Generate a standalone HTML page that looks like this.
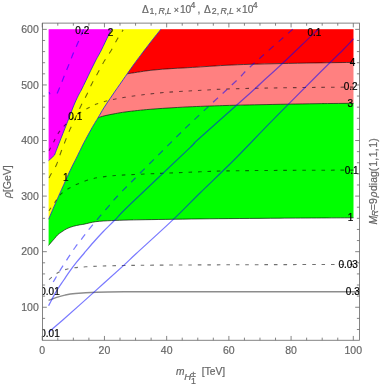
<!DOCTYPE html>
<html><head><meta charset="utf-8"><title>plot</title>
<style>
html,body{margin:0;padding:0;background:#fff;}
body{width:382px;height:388px;overflow:hidden;font-family:"Liberation Sans",sans-serif;}
svg{display:block;will-change:transform;}
text{font-family:"Liberation Sans",sans-serif;}
.tk{font-size:10.5px;fill:#666;stroke:#666;stroke-width:0.18px;}
.cl{font-size:10px;fill:#000;stroke:#000;stroke-width:0.2px;}
.ti{font-size:10.2px;fill:#666;stroke:#666;stroke-width:0.2px;}
.sb{font-size:8.8px;}
.fl{font-size:10.5px;fill:#666;stroke:#666;stroke-width:0.2px;}
</style></head><body>
<svg width="382" height="388" viewBox="0 0 382 388">
<rect width="382" height="388" fill="#fff"/>
<defs><clipPath id="cp"><rect x="42.5" y="23.1" width="317" height="317.15"/></clipPath></defs>
<g clip-path="url(#cp)">
<path d="M100,25.50 L100,73.80 L127.20,73.80 C128.93,73.53 133.78,72.77 137.60,72.20 C141.42,71.63 145.22,70.95 150.10,70.40 C154.98,69.85 160.62,69.35 166.90,68.90 C173.18,68.45 181.45,68.08 187.80,67.70 C194.15,67.32 198.63,67.00 205.00,66.60 C211.37,66.20 218.50,65.68 226.00,65.30 C233.50,64.92 241.00,64.58 250.00,64.30 C259.00,64.02 269.00,63.83 280.00,63.60 C291.00,63.37 303.75,63.10 316.00,62.90 C328.25,62.70 347.25,62.48 353.50,62.40 L357.00,62.40 L357.00,25.50 Z" fill="#ff0000"/>
<path d="M90,72.80 L90,117.70 L98.10,117.70 C99.23,117.37 102.02,116.38 104.90,115.70 C107.78,115.02 112.05,114.22 115.40,113.60 C118.75,112.98 121.30,112.52 125.00,112.00 C128.70,111.48 133.42,110.95 137.60,110.50 C141.78,110.05 145.22,109.70 150.10,109.30 C154.98,108.90 160.62,108.50 166.90,108.10 C173.18,107.70 181.45,107.22 187.80,106.90 C194.15,106.58 198.63,106.43 205.00,106.20 C211.37,105.97 216.83,105.75 226.00,105.50 C235.17,105.25 245.00,105.00 260.00,104.70 C275.00,104.40 300.42,103.93 316.00,103.70 C331.58,103.47 347.25,103.37 353.50,103.30 L357.00,103.30 L357.00,62.40 L353.50,62.40 C347.25,62.48 328.25,62.70 316.00,62.90 C303.75,63.10 291.00,63.37 280.00,63.60 C269.00,63.83 259.00,64.02 250.00,64.30 C241.00,64.58 233.50,64.92 226.00,65.30 C218.50,65.68 211.37,66.20 205.00,66.60 C198.63,67.00 194.15,67.32 187.80,67.70 C181.45,68.08 173.18,68.45 166.90,68.90 C160.62,69.35 154.98,69.85 150.10,70.40 C145.22,70.95 141.42,71.63 137.60,72.20 C133.78,72.77 128.93,73.53 127.20,73.80 Z" fill="#ff8080"/>
<path d="M45.00,116.70 L98.10,117.70 C99.23,117.37 102.02,116.38 104.90,115.70 C107.78,115.02 112.05,114.22 115.40,113.60 C118.75,112.98 121.30,112.52 125.00,112.00 C128.70,111.48 133.42,110.95 137.60,110.50 C141.78,110.05 145.22,109.70 150.10,109.30 C154.98,108.90 160.62,108.50 166.90,108.10 C173.18,107.70 181.45,107.22 187.80,106.90 C194.15,106.58 198.63,106.43 205.00,106.20 C211.37,105.97 216.83,105.75 226.00,105.50 C235.17,105.25 245.00,105.00 260.00,104.70 C275.00,104.40 300.42,103.93 316.00,103.70 C331.58,103.47 347.25,103.37 353.50,103.30 L357.00,103.30 L357.00,217.80 L353.50,217.80 C341.25,217.87 305.58,218.02 280.00,218.20 C254.42,218.38 223.33,218.63 200.00,218.90 C176.67,219.17 152.15,219.60 140.00,219.80 C127.85,220.00 131.87,219.97 127.10,220.10 C122.33,220.23 116.63,220.33 111.40,220.60 C106.17,220.87 100.27,221.10 95.70,221.70 C91.13,222.30 86.68,223.67 84.00,224.20 C81.32,224.73 81.38,224.55 79.60,224.90 C77.82,225.25 75.40,225.68 73.30,226.30 C71.20,226.92 68.92,227.68 67.00,228.60 C65.08,229.52 63.37,230.75 61.80,231.80 C60.23,232.85 58.82,233.77 57.60,234.90 C56.38,236.03 55.55,237.38 54.50,238.60 C53.45,239.82 52.28,241.07 51.30,242.20 C50.32,243.33 49.05,244.87 48.60,245.40 L45.00,249.7 Z" fill="#00ff00"/>
<path d="M45.00,25.50 L163.8,25.50 L160.90,29.20 C159.23,31.30 154.30,37.43 150.90,41.80 C147.50,46.17 143.25,51.77 140.50,55.40 C137.75,59.03 136.62,60.53 134.40,63.60 C132.18,66.67 129.62,70.35 127.20,73.80 C124.78,77.25 121.78,81.60 119.90,84.30 C118.02,87.00 117.52,87.65 115.90,90.00 C114.28,92.35 112.20,95.43 110.20,98.40 C108.20,101.37 105.92,104.58 103.90,107.80 C101.88,111.02 99.67,115.08 98.10,117.70 C96.53,120.32 95.72,121.45 94.50,123.50 C93.28,125.55 92.55,126.83 90.80,130.00 C89.05,133.17 85.87,138.93 84.00,142.50 C82.13,146.07 81.03,148.48 79.60,151.40 C78.17,154.32 76.62,157.57 75.40,160.00 C74.18,162.43 73.52,163.52 72.30,166.00 C71.08,168.48 69.50,171.85 68.10,174.90 C66.70,177.95 65.30,181.17 63.90,184.30 C62.50,187.43 60.75,191.35 59.70,193.70 C58.65,196.05 58.57,196.22 57.60,198.40 C56.63,200.58 55.40,203.32 53.90,206.80 C52.40,210.28 49.48,217.22 48.60,219.30 L45.00,228 Z" fill="#ffff00"/>
<path d="M45.00,25.50 L113.2,25.50 L111.40,29.20 C110.87,30.30 109.87,32.33 108.20,35.80 C106.53,39.27 103.43,45.98 101.40,50.00 C99.37,54.02 97.73,56.58 96.00,59.90 C94.27,63.22 92.67,66.48 91.00,69.90 C89.33,73.32 87.62,77.05 86.00,80.40 C84.38,83.75 82.58,87.48 81.30,90.00 C80.02,92.52 79.58,92.85 78.30,95.50 C77.02,98.15 75.22,101.98 73.60,105.90 C71.98,109.82 70.05,115.25 68.60,119.00 C67.15,122.75 66.20,125.10 64.90,128.40 C63.60,131.70 62.10,135.48 60.80,138.80 C59.50,142.12 58.15,145.58 57.10,148.30 C56.05,151.02 54.93,153.97 54.50,155.10 L50.80,158.70 L48.60,160.60 L45.00,163.96 Z" fill="#ff00ff"/>
<rect x="42.5" y="23.1" width="6.10" height="317.15" fill="#fff"/><rect x="353.50" y="23.1" width="6.00" height="317.15" fill="#fff"/><rect x="42.5" y="23.1" width="317" height="6.10" fill="#fff"/>
<g fill="none" stroke="#000" stroke-opacity="0.8" stroke-width="0.8">
<path d="M127.20,73.80 C128.93,73.53 133.78,72.77 137.60,72.20 C141.42,71.63 145.22,70.95 150.10,70.40 C154.98,69.85 160.62,69.35 166.90,68.90 C173.18,68.45 181.45,68.08 187.80,67.70 C194.15,67.32 198.63,67.00 205.00,66.60 C211.37,66.20 218.50,65.68 226.00,65.30 C233.50,64.92 241.00,64.58 250.00,64.30 C259.00,64.02 269.00,63.83 280.00,63.60 C291.00,63.37 303.75,63.10 316.00,62.90 C328.25,62.70 347.25,62.48 353.50,62.40"/><path d="M98.10,117.70 C99.23,117.37 102.02,116.38 104.90,115.70 C107.78,115.02 112.05,114.22 115.40,113.60 C118.75,112.98 121.30,112.52 125.00,112.00 C128.70,111.48 133.42,110.95 137.60,110.50 C141.78,110.05 145.22,109.70 150.10,109.30 C154.98,108.90 160.62,108.50 166.90,108.10 C173.18,107.70 181.45,107.22 187.80,106.90 C194.15,106.58 198.63,106.43 205.00,106.20 C211.37,105.97 216.83,105.75 226.00,105.50 C235.17,105.25 245.00,105.00 260.00,104.70 C275.00,104.40 300.42,103.93 316.00,103.70 C331.58,103.47 347.25,103.37 353.50,103.30"/><path d="M48.60,245.40 C49.05,244.87 50.32,243.33 51.30,242.20 C52.28,241.07 53.45,239.82 54.50,238.60 C55.55,237.38 56.38,236.03 57.60,234.90 C58.82,233.77 60.23,232.85 61.80,231.80 C63.37,230.75 65.08,229.52 67.00,228.60 C68.92,227.68 71.20,226.92 73.30,226.30 C75.40,225.68 77.82,225.25 79.60,224.90 C81.38,224.55 81.32,224.73 84.00,224.20 C86.68,223.67 91.13,222.30 95.70,221.70 C100.27,221.10 106.17,220.87 111.40,220.60 C116.63,220.33 122.33,220.23 127.10,220.10 C131.87,219.97 127.85,220.00 140.00,219.80 C152.15,219.60 176.67,219.17 200.00,218.90 C223.33,218.63 254.42,218.38 280.00,218.20 C305.58,218.02 341.25,217.87 353.50,217.80"/>
</g>
<g fill="none" stroke="#2a2ad8" stroke-opacity="0.85" stroke-width="1">
<path d="M111.40,29.20 C110.87,30.30 109.87,32.33 108.20,35.80 C106.53,39.27 103.43,45.98 101.40,50.00 C99.37,54.02 97.73,56.58 96.00,59.90 C94.27,63.22 92.67,66.48 91.00,69.90 C89.33,73.32 87.62,77.05 86.00,80.40 C84.38,83.75 82.58,87.48 81.30,90.00 C80.02,92.52 79.58,92.85 78.30,95.50 C77.02,98.15 75.22,101.98 73.60,105.90 C71.98,109.82 70.05,115.25 68.60,119.00 C67.15,122.75 66.20,125.10 64.90,128.40 C63.60,131.70 62.10,135.48 60.80,138.80 C59.50,142.12 58.15,145.58 57.10,148.30 C56.05,151.02 54.93,153.97 54.50,155.10 L50.8,158.7 L48.6,160.6"/><path d="M160.90,29.20 C159.23,31.30 154.30,37.43 150.90,41.80 C147.50,46.17 143.25,51.77 140.50,55.40 C137.75,59.03 136.62,60.53 134.40,63.60 C132.18,66.67 129.62,70.35 127.20,73.80 C124.78,77.25 121.78,81.60 119.90,84.30 C118.02,87.00 117.52,87.65 115.90,90.00 C114.28,92.35 112.20,95.43 110.20,98.40 C108.20,101.37 105.92,104.58 103.90,107.80 C101.88,111.02 99.67,115.08 98.10,117.70 C96.53,120.32 95.72,121.45 94.50,123.50 C93.28,125.55 92.55,126.83 90.80,130.00 C89.05,133.17 85.87,138.93 84.00,142.50 C82.13,146.07 81.03,148.48 79.60,151.40 C78.17,154.32 76.62,157.57 75.40,160.00 C74.18,162.43 73.52,163.52 72.30,166.00 C71.08,168.48 69.50,171.85 68.10,174.90 C66.70,177.95 65.30,181.17 63.90,184.30 C62.50,187.43 60.75,191.35 59.70,193.70 C58.65,196.05 58.57,196.22 57.60,198.40 C56.63,200.58 55.40,203.32 53.90,206.80 C52.40,210.28 49.48,217.22 48.60,219.30"/>
</g>
<g fill="none" stroke="#000" stroke-opacity="0.56" stroke-width="1.1" stroke-dasharray="3.6,5.9">
<path d="M353.50,87.10 C347.25,87.15 329.92,87.25 316.00,87.40 C302.08,87.55 285.00,87.73 270.00,88.00 C255.00,88.27 237.25,88.63 226.00,89.00 C214.75,89.37 208.87,89.87 202.50,90.20 C196.13,90.53 193.73,90.65 187.80,91.00 C181.87,91.35 173.88,91.73 166.90,92.30 C159.92,92.87 152.88,93.57 145.90,94.40 C138.92,95.23 130.25,96.50 125.00,97.30 C119.75,98.10 117.65,98.53 114.40,99.20 C111.15,99.87 108.47,100.48 105.50,101.30 C102.53,102.12 99.57,102.93 96.60,104.10 C93.63,105.27 91.13,106.40 87.70,108.30 C84.27,110.20 79.70,112.77 76.00,115.50 C72.30,118.23 68.38,121.85 65.50,124.70 C62.62,127.55 60.58,129.90 58.70,132.60 C56.82,135.30 55.68,138.12 54.20,140.90 C52.72,143.68 50.73,147.52 49.80,149.30 C48.87,151.08 48.80,151.22 48.60,151.60"/><path d="M353.50,170.10 C341.25,170.15 301.25,170.27 280.00,170.40 C258.75,170.53 239.33,170.67 226.00,170.90 C212.67,171.13 211.00,171.38 200.00,171.80 C189.00,172.22 173.33,172.83 160.00,173.40 C146.67,173.97 130.00,174.55 120.00,175.20 C110.00,175.85 105.33,176.50 100.00,177.30 C94.67,178.10 91.83,178.83 88.00,180.00 C84.17,181.17 80.23,182.88 77.00,184.30 C73.77,185.72 71.30,186.85 68.60,188.50 C65.90,190.15 63.07,191.95 60.80,194.20 C58.53,196.45 57.03,199.17 55.00,202.00 C52.97,204.83 49.67,209.67 48.60,211.20"/><path d="M353.50,264.40 C327.92,264.48 238.25,264.72 200.00,264.90 C161.75,265.08 143.02,265.18 124.00,265.50 C104.98,265.82 94.70,266.33 85.90,266.80 C77.10,267.27 75.05,267.70 71.20,268.30 C67.35,268.90 65.23,269.53 62.80,270.40 C60.37,271.27 58.97,271.92 56.60,273.50 C54.23,275.08 49.93,278.83 48.60,279.90"/>
<path d="M123.10,29.90 C122.12,31.47 119.22,35.83 117.20,39.30 C115.18,42.77 113.10,47.17 111.00,50.70 C108.90,54.23 106.72,56.95 104.60,60.50 C102.48,64.05 100.40,68.17 98.30,72.00 C96.20,75.83 93.95,79.67 92.00,83.50 C90.05,87.33 88.45,91.25 86.60,95.00 C84.75,98.75 82.72,102.25 80.90,106.00 C79.08,109.75 77.48,113.68 75.70,117.50 C73.92,121.32 71.90,125.08 70.20,128.90 C68.50,132.72 67.07,136.47 65.50,140.40 C63.93,144.33 62.28,148.50 60.80,152.50 C59.32,156.50 58.35,160.58 56.60,164.40 C54.85,168.22 51.63,172.97 50.30,175.40 C48.97,177.83 48.88,178.40 48.60,179.00" stroke-dasharray="5.6,7" stroke-dashoffset="3.5"/>
</g>
<path d="M359.50,291.70 C332.92,291.70 239.25,291.68 200.00,291.70 C160.75,291.72 141.27,291.72 124.00,291.80 C106.73,291.88 104.50,291.92 96.40,292.20 C88.30,292.48 80.65,293.02 75.40,293.50 C70.15,293.98 68.03,294.45 64.90,295.10 C61.77,295.75 59.32,296.50 56.60,297.40 C53.88,298.30 49.93,299.98 48.60,300.50" fill="none" stroke="#000" stroke-opacity="0.45" stroke-width="1.4"/>
<g fill="none" stroke="#0000ff" stroke-opacity="0.52" stroke-width="1.25">
<path d="M318.50,29.20 C317.43,30.18 318.52,29.00 312.10,35.10 C305.68,41.20 287.97,58.32 280.00,65.80 C272.03,73.28 269.30,75.43 264.30,80.00 C259.30,84.57 261.13,83.20 250.00,93.20 C238.87,103.20 207.50,130.93 197.50,140.00 C187.50,149.07 201.33,136.77 190.00,147.60 C178.67,158.43 142.02,192.93 129.50,205.00 C116.98,217.07 119.30,215.53 114.90,220.00 C110.50,224.47 106.63,228.13 103.10,231.80 C99.57,235.47 96.83,238.47 93.70,242.00 C90.57,245.53 87.18,249.60 84.30,253.00 C81.42,256.40 78.90,259.27 76.40,262.40 C73.90,265.53 71.40,268.87 69.30,271.80 C67.20,274.73 65.92,276.83 63.80,280.00 C61.68,283.17 58.57,287.60 56.60,290.80 C54.63,294.00 53.33,296.72 52.00,299.20 C50.67,301.68 49.17,304.62 48.60,305.70"/><path d="M353.50,38.80 C351.73,40.67 349.15,43.72 342.90,50.00 C336.65,56.28 328.15,64.35 316.00,76.50 C303.85,88.65 283.67,108.98 270.00,122.90 C256.33,136.82 245.67,148.32 234.00,160.00 C222.33,171.68 210.10,183.10 200.00,193.00 C189.90,202.90 184.07,209.27 173.40,219.40 C162.73,229.53 144.23,246.18 136.00,253.80 C127.77,261.42 130.95,258.75 124.00,265.10 C117.05,271.45 104.50,282.75 94.30,291.90 C84.10,301.05 70.42,313.32 62.80,320.00 C55.18,326.68 50.97,330.00 48.60,332.00"/>
<path d="M292.80,29.20 C285.67,35.50 259.45,58.37 250.00,67.00 C240.55,75.63 245.40,72.20 236.10,81.00 C226.80,89.80 205.00,109.62 194.20,119.80 C183.40,129.98 183.32,130.18 171.30,142.10 C159.28,154.02 132.48,180.68 122.10,191.30 C111.72,201.92 114.32,199.72 109.00,205.80 C103.68,211.88 94.53,222.57 90.20,227.80 C85.87,233.03 85.52,233.92 83.00,237.20 C80.48,240.48 77.57,244.08 75.10,247.50 C72.63,250.92 70.53,254.17 68.20,257.70 C65.87,261.23 63.28,265.17 61.10,268.70 C58.92,272.23 57.03,275.73 55.10,278.90 C53.17,282.07 50.43,286.23 49.50,287.70" stroke-dasharray="6.5,6.21"/>
<path d="M83.50,29.20 C82.70,31.17 80.37,37.07 78.70,41.00 C77.03,44.93 75.13,48.87 73.50,52.80 C71.87,56.73 70.43,60.77 68.90,64.60 C67.37,68.43 65.83,71.97 64.30,75.80 C62.77,79.63 60.90,84.65 59.70,87.60 C58.50,90.55 57.53,92.52 57.10,93.50" stroke-dasharray="6.4,6.2"/>
<path d="M49.2,92.1L49.9,94.3"/>
</g>
<text x="82.3" y="34.2" text-anchor="middle" class="cl">0.2</text>
<text x="110.6" y="35.6" text-anchor="middle" class="cl">2</text>
<text x="75.3" y="119.9" text-anchor="middle" class="cl">0.1</text>
<text x="65.9" y="181.0" text-anchor="middle" class="cl">1</text>
<text x="314.4" y="36.2" text-anchor="middle" class="cl">0.1</text>
<text x="352.6" y="65.8" text-anchor="middle" class="cl">4</text>
<text x="350.6" y="90.4" text-anchor="middle" class="cl">0.2</text>
<text x="350.3" y="106.6" text-anchor="middle" class="cl">3</text>
<text x="351.7" y="173.7" text-anchor="middle" class="cl">0.1</text>
<text x="350.5" y="220.6" text-anchor="middle" class="cl">1</text>
<text x="348.2" y="268.0" text-anchor="middle" class="cl">0.03</text>
<text x="352.8" y="294.9" text-anchor="middle" class="cl">0.3</text>
<text x="50.0" y="295.1" text-anchor="middle" class="cl">0.01</text>
<text x="50.0" y="336.5" text-anchor="middle" class="cl">0.01</text>

</g>
<rect x="42.5" y="23.1" width="317" height="317.15" fill="none" stroke="#666" stroke-width="0.8"/>
<path d="M42.24,340.25V335.95 M42.24,23.1V27.40 M57.79,340.25V337.65 M57.79,23.1V25.70 M73.35,340.25V337.65 M73.35,23.1V25.70 M88.90,340.25V337.65 M88.90,23.1V25.70 M104.45,340.25V335.95 M104.45,23.1V27.40 M120.00,340.25V337.65 M120.00,23.1V25.70 M135.56,340.25V337.65 M135.56,23.1V25.70 M151.11,340.25V337.65 M151.11,23.1V25.70 M166.66,340.25V335.95 M166.66,23.1V27.40 M182.22,340.25V337.65 M182.22,23.1V25.70 M197.77,340.25V337.65 M197.77,23.1V25.70 M213.32,340.25V337.65 M213.32,23.1V25.70 M228.88,340.25V335.95 M228.88,23.1V27.40 M244.43,340.25V337.65 M244.43,23.1V25.70 M259.98,340.25V337.65 M259.98,23.1V25.70 M275.53,340.25V337.65 M275.53,23.1V25.70 M291.09,340.25V335.95 M291.09,23.1V27.40 M306.64,340.25V337.65 M306.64,23.1V25.70 M322.19,340.25V337.65 M322.19,23.1V25.70 M337.75,340.25V337.65 M337.75,23.1V25.70 M353.30,340.25V335.95 M353.30,23.1V27.40 M42.5,329.49H45.10 M359.5,329.49H356.90 M42.5,318.38H45.10 M359.5,318.38H356.90 M42.5,307.26H46.80 M359.5,307.26H355.20 M42.5,296.14H45.10 M359.5,296.14H356.90 M42.5,285.03H45.10 M359.5,285.03H356.90 M42.5,273.91H45.10 M359.5,273.91H356.90 M42.5,262.80H45.10 M359.5,262.80H356.90 M42.5,251.68H46.80 M359.5,251.68H355.20 M42.5,240.56H45.10 M359.5,240.56H356.90 M42.5,229.45H45.10 M359.5,229.45H356.90 M42.5,218.33H45.10 M359.5,218.33H356.90 M42.5,207.22H45.10 M359.5,207.22H356.90 M42.5,196.10H46.80 M359.5,196.10H355.20 M42.5,184.98H45.10 M359.5,184.98H356.90 M42.5,173.87H45.10 M359.5,173.87H356.90 M42.5,162.75H45.10 M359.5,162.75H356.90 M42.5,151.64H45.10 M359.5,151.64H356.90 M42.5,140.52H46.80 M359.5,140.52H355.20 M42.5,129.40H45.10 M359.5,129.40H356.90 M42.5,118.29H45.10 M359.5,118.29H356.90 M42.5,107.17H45.10 M359.5,107.17H356.90 M42.5,96.06H45.10 M359.5,96.06H356.90 M42.5,84.94H46.80 M359.5,84.94H355.20 M42.5,73.82H45.10 M359.5,73.82H356.90 M42.5,62.71H45.10 M359.5,62.71H356.90 M42.5,51.59H45.10 M359.5,51.59H356.90 M42.5,40.48H45.10 M359.5,40.48H356.90 M42.5,29.36H46.80 M359.5,29.36H355.20 " stroke="#666" stroke-width="0.8" fill="none"/>
<text x="42.24" y="354.3" text-anchor="middle" class="tk">0</text>
<text x="104.45" y="354.3" text-anchor="middle" class="tk">20</text>
<text x="166.66" y="354.3" text-anchor="middle" class="tk">40</text>
<text x="228.88" y="354.3" text-anchor="middle" class="tk">60</text>
<text x="291.09" y="354.3" text-anchor="middle" class="tk">80</text>
<text x="353.30" y="354.3" text-anchor="middle" class="tk">100</text>
<text x="38.8" y="310.86" text-anchor="end" class="tk">100</text>
<text x="38.8" y="255.28" text-anchor="end" class="tk">200</text>
<text x="38.8" y="199.70" text-anchor="end" class="tk">300</text>
<text x="38.8" y="144.12" text-anchor="end" class="tk">400</text>
<text x="38.8" y="88.54" text-anchor="end" class="tk">500</text>
<text x="38.8" y="32.96" text-anchor="end" class="tk">600</text>

<!-- title -->
<g class="ti">
<g id="t1">
<text x="141.9" y="13">Δ</text>
<text x="149.6" y="14.3" class="sb">1,</text>
<text x="158.4" y="14.3" class="sb" font-style="italic">R</text>
<text x="164.4" y="14.3" class="sb">,</text>
<text x="166.7" y="14.3" class="sb" font-style="italic">L</text>
<text x="173.7" y="13.1" font-size="9">×</text>
<text x="179.9" y="13">10</text>
<text x="190.6" y="7.7" class="sb">4</text>
</g>
<text x="197.6" y="13">,</text>
<g transform="translate(62.2,0)">
<text x="141.9" y="13">Δ</text>
<text x="149.6" y="14.3" class="sb">2,</text>
<text x="158.4" y="14.3" class="sb" font-style="italic">R</text>
<text x="164.4" y="14.3" class="sb">,</text>
<text x="166.7" y="14.3" class="sb" font-style="italic">L</text>
<text x="173.7" y="13.1" font-size="9">×</text>
<text x="179.9" y="13">10</text>
<text x="190.6" y="7.7" class="sb">4</text>
</g>
<!-- x label -->
<text x="175.9" y="375.4" font-style="italic">m</text>
<text x="184.2" y="380.3" font-size="9.6" font-style="italic">H</text>
<text x="190.8" y="377.4" font-size="9.4">±</text>
<text x="190.9" y="384.1" class="sb">1</text>
<text x="201.8" y="375.3">[TeV]</text>
</g>
<g class="fl">
<!-- y label -->
<g transform="translate(10.5,199) rotate(-90)">
<text x="0.9" y="0" font-style="italic">ρ</text>
<text x="6.8" y="0">[GeV]</text>
</g>
<!-- right label -->
<g transform="translate(376.7,224.4) rotate(-90)">
<text x="0" y="0" font-style="italic">M</text>
<text x="7.8" y="1.7" font-size="9" font-style="italic">R</text>
<text x="14.2" y="0">=9</text>
<text x="27" y="0" font-style="italic">ρ</text>
<text x="33.4" y="0">diag(</text>
<text x="57.7" y="0">1,</text>
<text x="67.2" y="0">1,</text>
<text x="76.7" y="0">1)</text>
</g>
</g>
</svg>
</body></html>
